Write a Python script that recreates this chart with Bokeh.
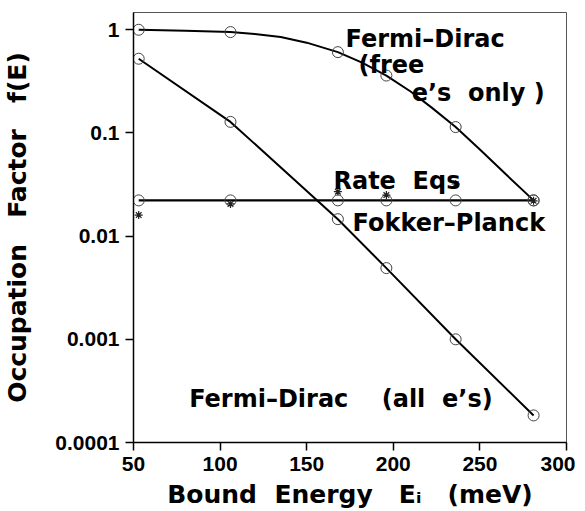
from bokeh.plotting import figure
from bokeh.models import Range1d, FixedTicker, Label
from bokeh.embed import file_html
from bokeh.resources import INLINE

# ---- data ----
energy = [53, 106, 168, 196, 236, 281]                      # bound energy E_i (meV)
fd_free = [1.0, 0.95, 0.607, 0.36, 0.114, 0.0222]           # Fermi-Dirac (free e's only), markers
fd_free_curve_E = [53, 80, 106, 120, 135, 150, 168, 182, 196, 210, 222, 236, 250, 265, 281]
fd_free_curve_f = [1.0, 0.98, 0.95, 0.91, 0.85, 0.75, 0.607, 0.48, 0.36, 0.252, 0.177,
                   0.114, 0.069, 0.0397, 0.0222]
fd_all = [0.524, 0.128, 0.0146, 0.0049, 0.001, 0.000183]   # Fermi-Dirac (all e's)
fokker_planck = [0.0222, 0.0222, 0.0222, 0.0222, 0.0222, 0.0222]
rate_eqs = [0.016, 0.0205, 0.027, 0.025, 0.032, 0.022]

x_ticks = [50, 100, 150, 200, 250, 300]
y_ticks = [0.0001, 0.001, 0.01, 0.1, 1]
y_tick_labels = ["0.0001", "0.001", "0.01", "0.1", "1"]

LABEL_FONT = "DejaVu Sans"
TICK_FONT = "Liberation Sans"
S2 = " \u00a0"          # visible wider spaces (SVG collapses plain runs of spaces)
S3 = " \u00a0\u00a0"
S4 = " \u00a0\u00a0\u00a0"

p = figure(width=575, height=511, y_axis_type="log",
           x_range=Range1d(50, 300), y_range=Range1d(0.0001, 1.47),
           output_backend="svg", toolbar_location=None,
           min_border_left=133, min_border_right=9,
           min_border_top=12, min_border_bottom=68)

p.background_fill_color = "white"
p.border_fill_color = "white"
p.outline_line_color = "#555555"
p.outline_line_width = 1
p.xgrid.visible = False
p.ygrid.visible = False

# axes
for ax in (p.xaxis, p.yaxis):
    ax.axis_line_color = "black"
    ax.axis_line_width = 1.5
    ax.major_tick_line_color = "black"
    ax.major_tick_line_width = 1.5
    ax.major_tick_out = 8
    ax.major_tick_in = 0
    ax.minor_tick_line_color = None
    ax.major_label_text_font = TICK_FONT
    ax.major_label_text_font_style = "bold"
    ax.major_label_text_font_size = "21px"
    ax.major_label_text_color = "black"
    ax.major_label_standoff = 6
    ax.axis_label_text_font = LABEL_FONT
    ax.axis_label_text_font_style = "bold"
    ax.axis_label_text_font_size = "25px"
    ax.axis_label_text_color = "black"

p.xaxis.ticker = FixedTicker(ticks=x_ticks)
p.yaxis.ticker = FixedTicker(ticks=y_ticks)
p.yaxis.major_label_overrides = {t: s for t, s in zip(y_ticks, y_tick_labels)}

p.yaxis.axis_label = "Occupation" + S3 + "Factor" + S3 + "f(E)"
p.yaxis.axis_label_standoff = 20
p.xaxis.axis_label = "Bound" + S2 + "Energy" + S3 + "E\u1d62" + S3 + "(meV)"
p.xaxis.axis_label_standoff = 6

# curves
p.line(fd_free_curve_E, fd_free_curve_f, line_color="black", line_width=2)
p.line(energy, fd_all, line_color="black", line_width=2)
p.line(energy, fokker_planck, line_color="black", line_width=2.2)

# markers
mk = dict(size=11, fill_color=None, line_color="#444444", line_width=1)
p.scatter(energy, fd_free, marker="circle", **mk)
p.scatter(energy, fd_all, marker="circle", **mk)
p.scatter(energy, fokker_planck, marker="circle", **mk)
p.scatter(energy, rate_eqs, marker="asterisk", size=8, line_color="#222222", line_width=1.2)

# helpers to place text at reference picture positions (in data units)
def ex(px):
    return 50 + (px - 133.5) / 1.728

def fy(py):
    return 10 ** (-(py - 29.3) / 103.3)

def add_label(text, px, py, size="24px"):
    p.add_layout(Label(x=ex(px), y=fy(py), text=text, text_font=LABEL_FONT,
                       text_font_style="bold", text_font_size=size, text_color="black",
                       text_align="left", text_baseline="alphabetic"))

add_label("Fermi\u2013Dirac", 345, 39)
add_label("(free", 358, 65)
add_label("e\u2019s" + S2 + "only\u00a0)", 411, 93)
add_label("Rate" + S2 + "Eqs", 333, 181)
add_label("Fokker\u2013Planck", 352, 223)
add_label("Fermi\u2013Dirac" + S4 + "(all" + S2 + "e\u2019s)", 189, 399)

open("out.html", "w").write(file_html(p, INLINE))
